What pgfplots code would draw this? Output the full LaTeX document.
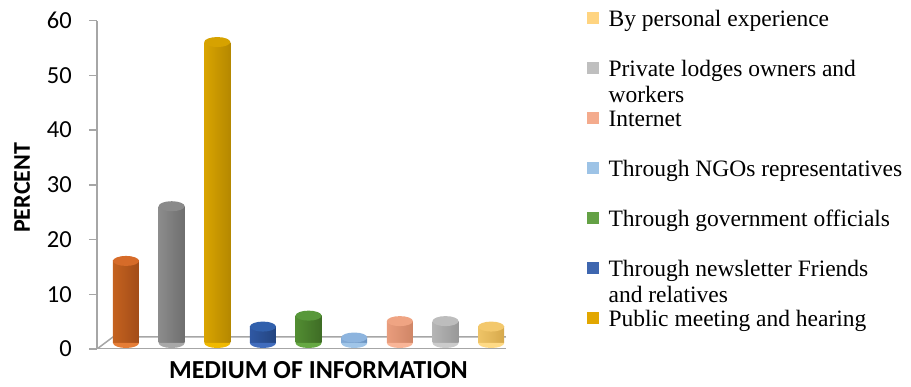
\documentclass[border=0pt]{standalone}
\usepackage{pgfplots}
\pgfplotsset{compat=1.18}
\usepackage{fontspec}
\setmainfont{Carlito}
\newfontfamily\legfont{Liberation Serif}

\definecolor{axgray}{HTML}{A6A6A6}
% orange
\definecolor{orL}{HTML}{C4621F}\definecolor{orM}{HTML}{E57D36}\definecolor{orR}{HTML}{A24C18}\definecolor{orT}{HTML}{D66B29}
% gray
\definecolor{grL}{HTML}{8C8C8C}\definecolor{grM}{HTML}{A8A8A8}\definecolor{grR}{HTML}{6E6E6E}\definecolor{grT}{HTML}{8A8A8A}
% gold
\definecolor{goL}{HTML}{D9A400}\definecolor{goM}{HTML}{F0B900}\definecolor{goR}{HTML}{B58800}\definecolor{goT}{HTML}{D6A200}
% dark blue
\definecolor{dbL}{HTML}{2F58A3}\definecolor{dbM}{HTML}{416DBD}\definecolor{dbR}{HTML}{23447F}\definecolor{dbT}{HTML}{3160AC}
% green
\definecolor{gnL}{HTML}{528D32}\definecolor{gnM}{HTML}{66A843}\definecolor{gnR}{HTML}{3E6C25}\definecolor{gnT}{HTML}{58983A}
% light blue
\definecolor{lbL}{HTML}{82AAD6}\definecolor{lbM}{HTML}{A0C5E8}\definecolor{lbR}{HTML}{6B93C0}\definecolor{lbT}{HTML}{8DB4DE}
% salmon
\definecolor{saL}{HTML}{E99D7D}\definecolor{saM}{HTML}{F9B597}\definecolor{saR}{HTML}{CF8566}\definecolor{saT}{HTML}{EFA483}
% light gray
\definecolor{lgL}{HTML}{B5B5B5}\definecolor{lgM}{HTML}{CBCBCB}\definecolor{lgR}{HTML}{989898}\definecolor{lgT}{HTML}{BDBDBD}
% yellow
\definecolor{yeL}{HTML}{EFC467}\definecolor{yeM}{HTML}{FFDA85}\definecolor{yeR}{HTML}{D6A94C}\definecolor{yeT}{HTML}{F3C86C}
% legend colours
\definecolor{lgA}{HTML}{FFD480}
\definecolor{lgB}{HTML}{BFBFBF}
\definecolor{lgC}{HTML}{F4AB8D}
\definecolor{lgD}{HTML}{9DC3E6}
\definecolor{lgE}{HTML}{64A145}
\definecolor{lgF}{HTML}{3E66AF}
\definecolor{lgG}{HTML}{E2A700}

\pgfdeclareplotmark{cyltop}{%
  \pgfpathellipse{\pgfpointorigin}{\pgfqpoint{13pt}{0pt}}{\pgfqpoint{0pt}{5pt}}%
  \pgfusepathqfill}
\pgfdeclareplotmark{cylbot}{%
  \pgfpathmoveto{\pgfqpoint{-13pt}{0pt}}%
  \pgfpatharc{180}{360}{13pt and 5pt}%
  \pgfpathclose\pgfusepathqfill}

% x, value, colour prefix
\newcommand\cyl[3]{%
  \addplot[ybar, bar width=26pt, bar shift=0pt, draw=none,
    left color=#3L, middle color=#3M, right color=#3R, forget plot]
    coordinates {(#1,#2)};
  \addplot[only marks, mark=cylbot, mark options={fill=#3M}, forget plot]
    coordinates {(#1,0)};
  \addplot[only marks, mark=cyltop, mark options={fill=#3T}, forget plot]
    coordinates {(#1,#2)};
}

\newcommand\lt[1]{\legfont\fontsize{23.5}{26.5}\selectfont
  \vtop to 30pt{\hbox{\strut #1}\vss}}
\newcommand\ltt[2]{\legfont\fontsize{23.5}{26.5}\selectfont
  \vtop to 30pt{\baselineskip=26.5pt\hbox{\strut #1}\hbox{\strut #2}\vss}}

\begin{document}
\begin{tikzpicture}
\begin{axis}[
  name=ax1, at={(0,0)}, anchor=south west,
  scale only axis, width=409pt, height=328.3pt,
  xmin=-0.46, xmax=8.5, ymin=0, ymax=60,
  axis lines*=left,
  x axis line style={draw=none},
  y axis line style={axgray, line width=1.5pt},
  ytick={0,10,...,60}, xtick=\empty,
  tick align=outside, major tick length=8pt,
  every tick/.style={axgray, line width=1.5pt},
  /pgf/number format/assume math mode=true,
  yticklabel style={font=\fontsize{24.5}{28}\selectfont, inner sep=0pt, xshift=-17pt},
  ylabel={\bfseries PERCENT},
  ylabel style={font=\fontsize{24}{28}\selectfont, at={([xshift=-67pt,yshift=-3pt]rel axis cs:0,0.5)}, anchor=base},
  xlabel={\bfseries MEDIUM OF INFORMATION},
  xlabel style={font=\fontsize{26}{30}\selectfont, at={([xshift=17pt,yshift=-30pt]rel axis cs:0.5,0)}, anchor=base},
  legend style={at={(rel axis cs:1,1)}, anchor=north west, xshift=81pt, yshift=13.25pt,
    draw=none, fill=none, inner sep=0pt, row sep=30pt, column sep=10pt,
    nodes={inner sep=0pt}},
  legend cell align=left,
  legend image code/.code={\fill[#1] (0pt,-5.5pt) rectangle (11pt,5.5pt);},
]
\addlegendimage{lgA}\addlegendentry{\lt{By personal experience}}
\addlegendimage{lgB}\addlegendentry{\ltt{Private lodges owners and}{workers}}
\addlegendimage{lgC}\addlegendentry{\lt{Internet}}
\addlegendimage{lgD}\addlegendentry{\lt{Through NGOs representatives}}
\addlegendimage{lgE}\addlegendentry{\lt{Through government officials}}
\addlegendimage{lgF}\addlegendentry{\ltt{Through newsletter Friends}{and relatives}}
\addlegendimage{lgG}\addlegendentry{\lt{Public meeting and hearing}}
\draw[axgray, line width=1.5pt, line join=round]
  (axis cs:-0.46,0) -- (axis cs:8.5,0) -- ++(16pt,12pt)
  -- ([shift={(16pt,12pt)}]axis cs:-0.46,0) -- cycle;
\end{axis}
\begin{axis}[
  at={(8pt,6pt)}, anchor=south west,
  scale only axis, width=409pt, height=328.3pt,
  xmin=-0.46, xmax=8.5, ymin=0, ymax=60,
  hide axis, clip=false,
]
\cyl{0}{15}{or}
\cyl{1}{25}{gr}
\cyl{2}{55}{go}
\cyl{3}{3}{db}
\cyl{4}{5}{gn}
\cyl{5}{1}{lb}
\cyl{6}{4}{sa}
\cyl{7}{4}{lg}
\cyl{8}{3}{ye}
\end{axis}
\pgfresetboundingbox
\path[use as bounding box] (-97pt,-38pt) rectangle (814pt,349pt);
\end{tikzpicture}
\end{document}
